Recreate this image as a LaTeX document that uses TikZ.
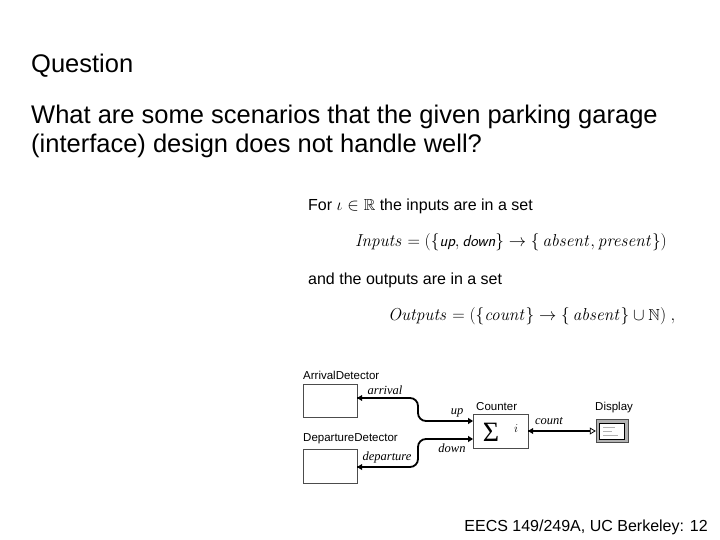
\documentclass[tikz,border=0pt]{standalone}
\usepackage{amssymb}
\usepackage[no-math]{fontspec}
\setmainfont{Liberation Sans}
\newfontfamily\serifit{Liberation Serif}
\usetikzlibrary{arrows.meta}
\begin{document}
\begin{tikzpicture}[x=1pt,y=-1pt,
  txt/.style={anchor=west,inner sep=0pt,font=\fontsize{25.5}{28}\selectfont},
  small/.style={anchor=west,inner sep=0pt,font=\fontsize{16}{18}\selectfont},
  lbl/.style={inner sep=0pt,font=\fontsize{11.5}{13}\selectfont},
  port/.style={inner sep=0pt,font=\serifit\itshape\fontsize{12.5}{13}\selectfont},
  blk/.style={draw=black!70,fill=white,line width=0.5pt},
  wire/.style={line width=1.8pt}]
\useasboundingbox (0,0) rectangle (720,540);
\node[txt] (q) at (31,66) {Question};
\node[txt] (b1) at (31,117) {What are some scenarios that the given parking garage};
\node[txt] (b2) at (31,146) {(interface) design does not handle well?};
\node[small] (f1) at (308,206) {For $\iota\in\mathbb{R}$ the inputs are in a set};
\node[small,anchor=east] (f2) at (667,242) {$\mathit{Inputs}=(\{\textsf{\itshape up},\textsf{\itshape down}\}\to\{\,\mathit{absent},\mathit{present}\})$};
\node[small] (f3) at (308,280) {and the outputs are in a set};
\node[small] (f4) at (388,316) {$\mathit{Outputs}=(\{\mathit{count}\}\to\{\,\mathit{absent}\}\cup\mathbb{N})\ ,$};
% blocks
\node[blk,minimum width=54pt,minimum height=33pt] (ad) at (330,401) {};
\node[lbl,anchor=south west] (adl) at (303,380) {ArrivalDetector};
\node[blk,minimum width=54pt,minimum height=34pt] (dd) at (330,466) {};
\node[lbl,anchor=south west] (ddl) at (303,444) {DepartureDetector};
\node[blk,minimum width=55pt,minimum height=34pt] (ct) at (500.5,431) {};
\node[inner sep=0pt,font=\serifit\fontsize{28}{28}\selectfont] (sig) at (491,432) {Σ};
\node[port] (iv) at (516,429) {$i$};
\node[lbl,anchor=south west] (ctl) at (476,411) {Counter};
\node[draw=black!70,fill=black!30,minimum width=32pt,minimum height=23pt,inner sep=0pt] (dp) at (612,431) {};
\node[draw=black,fill=white,minimum width=25pt,minimum height=16pt,inner sep=0pt] (dpi) at (612,431) {};
\draw[gray!60] (603,427)--(615,427) (603,431)--(612,431) (603,435)--(618,435);
\node[lbl,anchor=south west] (dpl) at (595,413) {Display};
% wires
\coordinate (a1) at (357,398);
\coordinate (u1) at (473,421);
\coordinate (d1) at (357,467);
\coordinate (w1) at (473,439);
\draw[wire,-{Triangle[length=5pt,width=6pt]}] (a1) -- (410,398) to[out=0,in=90] (418,406) -- (418,413) to[out=-90,in=180] (426,421) -- (u1);
\fill (357,398) -- (362,395) -- (362,401) -- cycle;
\draw[wire,-{Triangle[length=5pt,width=6pt]}] (d1) -- (410,467) to[out=0,in=-90] (418,459) -- (418,447) to[out=90,in=180] (426,439) -- (w1);
\fill (357,467) -- (362,464) -- (362,470) -- cycle;
\draw[wire,-{Triangle[open,length=6pt,width=7pt,line width=0.8pt]}] (ct.east) -- (dp.west);
\fill (528,431) -- (533,428) -- (533,434) -- cycle;
\node[port] (arl) at (385,390) {arrival};
\node[port] (upl) at (457,413) {up};
\node[port] (del) at (387,457) {departure};
\node[port] (dnl) at (452,448) {down};
\node[port] (col) at (549,421) {count};
\node[anchor=east,inner sep=0pt,font=\fontsize{16}{18}\selectfont] (ft) at (708,527) {EECS 149/249A, UC Berkeley: 12};
\end{tikzpicture}
\end{document}
